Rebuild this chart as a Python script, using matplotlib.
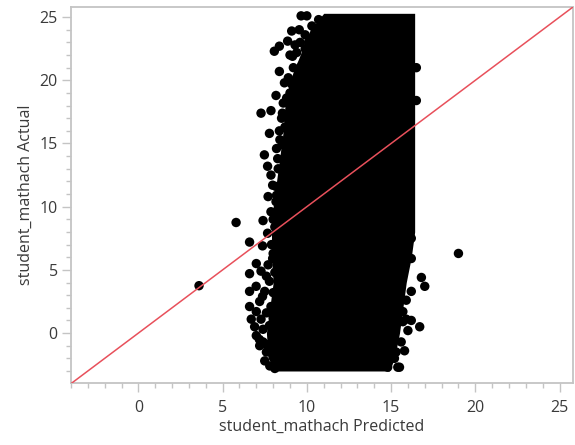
import matplotlib.pyplot as plt
import numpy as np

# 予測値 vs 実測値 (student_mathach)
# 中心の密な領域 (塗りつぶし範囲)
core_y = [25.3, 24.0, 22.0, 20.0, 18.0, 16.0, 14.0, 12.0, 10.0, 8.0, 6.0, 4.0, 2.0, 0.0, -2.0, -3.0]
core_left = [11.0, 10.2, 9.6, 9.0, 8.7, 8.6, 8.4, 8.2, 8.0, 7.9, 7.9, 8.0, 7.8, 7.6, 7.7, 8.2]
core_right = [16.4, 16.4, 16.4, 16.4, 16.4, 16.4, 16.4, 16.4, 16.4, 16.4, 16.2, 15.9, 15.7, 15.5, 15.2, 14.9]

# 周辺の点 (Predicted, Actual)
pred = [3.6, 5.8, 6.6, 19.0,
        10.0, 10.7, 9.66, 9.1, 9.55, 8.07, 8.37, 8.86, 9.15, 8.37, 8.67, 8.17,
        7.28, 7.87, 8.55, 7.78, 8.37, 7.48, 8.55, 7.67, 8.27, 7.87, 8.17, 8.67,
        7.97, 8.17, 7.87, 7.67, 7.37, 7.97, 7.28, 7.78, 6.99, 7.37, 7.87, 7.28,
        7.78, 7.18, 7.97, 7.97, 8.37, 8.86,
        7.0, 6.6, 6.6, 6.6, 6.7, 6.9, 7.4, 7.6, 7.5, 8.4,
        16.5, 16.5, 16.2, 16.2, 16.8, 17.0, 16.2, 16.7, 16.2, 15.7, 15.6, 15.8,
        15.4, 14.8, 15.5, 15.7, 15.1, 15.3, 15.5, 14.5, 15.9,
        9.6, 9.9, 9.4, 9.7, 9.2, 8.9, 9.5, 9.0, 8.6, 9.3, 8.9, 8.7, 9.0, 8.4,
        8.8, 8.3, 8.6, 8.5, 8.2, 8.0, 8.1, 7.9, 8.0, 7.7, 7.6, 8.1, 7.5, 8.0,
        7.2, 7.6, 8.0, 7.0, 7.4, 8.0, 7.6, 7.2, 8.0, 7.8, 8.1, 7.0,
        15.9, 16.0, 15.2,
        10.3, 9.9, 10.1, 9.3, 9.0, 9.5, 9.1, 8.8, 8.5, 8.2, 7.7, 7.4]
actual = [3.75, 8.75, 7.2, 6.3,
          25.1, 24.8, 25.1, 23.9, 24.0, 22.3, 22.7, 23.1, 21.9, 20.7, 19.8, 18.8,
          17.4, 17.6, 17.4, 15.8, 16.0, 14.1, 14.9, 13.2, 13.8, 12.5, 11.6, 12.8,
          11.7, 10.4, 9.6, 7.9, 6.9, 5.9, 4.9, 4.1, 3.7, 2.9, 2.1, 1.1,
          0.6, -0.5, -0.2, -1.3, -2.1, -2.6,
          5.5, 4.7, 3.3, 2.1, 1.1, 0.5, -0.7, -1.5, -2.2, -2.6,
          21.0, 18.4, 7.5, 5.9, 4.4, 3.7, 3.3, 0.5, 1.0, 1.7, -0.7, -1.4,
          -2.7, -2.7, 1.7, 0.9, 0.1, -1.5, -2.7, -0.7, 1.1,
          23.0, 22.5, 22.2, 21.2, 21.0, 20.2, 19.5, 19.0, 18.2, 17.8, 17.0, 16.3, 15.5, 15.3,
          14.4, 13.0, 12.2, 11.0, 10.9, 9.0, 8.4, 7.0, 6.3, 5.4, 4.5, 4.8, 3.3, 3.2,
          2.5, 1.6, 1.2, 1.7, 0.3, 0.0, -0.9, -1.0, -1.8, -2.6, -2.8, -0.2,
          2.6, 0.2, -2.0,
          24.3, 23.6, 23.0, 22.8, 22.0, 20.5, 19.7, 18.6, 17.0, 14.6, 10.8, 8.9]

x_ticks = [0, 5, 10, 15, 20, 25]
y_ticks = [0, 5, 10, 15, 20, 25]

plt.rcParams['font.family'] = ['Open Sans', 'DejaVu Sans']
fig = plt.figure(figsize=(5.75, 4.45), dpi=100)
ax = fig.add_axes([71/575, 62/445, 502/575, 376/445])

ax.fill_betweenx(core_y, core_left, core_right, color='black', lw=0, zorder=2)
ax.scatter(pred, actual, s=46, c='black', edgecolors='none', zorder=3)
ax.axline((0, 0), slope=1, color='#e8505b', lw=1.1, zorder=4)

ax.set_xlim(-4, 25.8)
ax.set_ylim(-3.95, 25.8)
ax.set_xticks(x_ticks)
ax.set_yticks(y_ticks)
ax.set_xticks(np.arange(-4, 26, 1), minor=True)
ax.set_yticks(np.arange(-3, 26, 1), minor=True)

gray = '#c4c4c4'
for s in ax.spines.values():
    s.set_color(gray)
    s.set_linewidth(1.3)
ax.tick_params(which='major', length=6.5, width=1, color=gray, labelsize=11.5,
               labelcolor='#3a3a3a')
ax.tick_params(which='minor', length=3.5, width=1, color=gray)
ax.tick_params(axis='x', which='major', pad=6)
ax.tick_params(axis='y', which='major', pad=3)

ax.set_xlabel('student_mathach Predicted', fontsize=11.5, color='#3a3a3a', labelpad=2)
ax.set_ylabel('student_mathach Actual', fontsize=11.5, color='#3a3a3a', labelpad=4)

fig.savefig('out.png', dpi=100)
